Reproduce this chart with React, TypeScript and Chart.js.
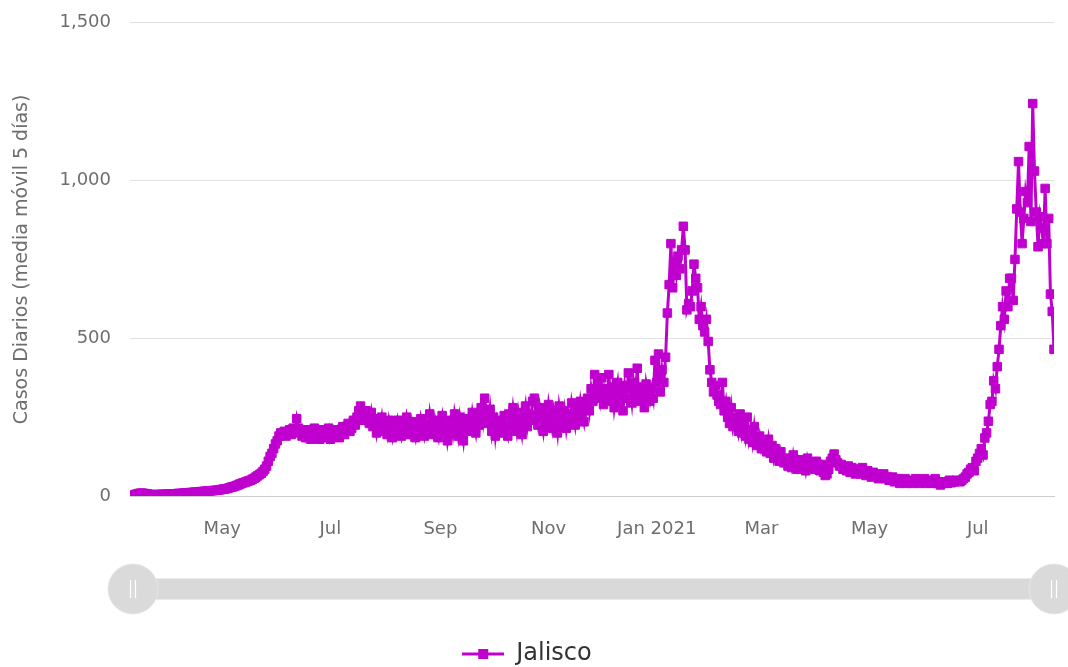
import { useEffect, useRef } from 'react';
import { Chart, registerables } from 'chart.js';

Chart.register(...registerables);

const seriesName = 'Jalisco';
const yAxisTitle = 'Casos Diarios (media móvil 5 días)';
const lineColor = '#bf00cf';

// daily 5-day moving average, 10 Mar 2020 .. 31 Dec 2020
const values2020 = [
  0, 1, 3, 5, 6, 8, 9, 9, 8, 7,
  6, 5, 5, 4, 4, 4, 5, 5, 5, 5,
  5, 6, 6, 6, 7, 7, 7, 8, 8, 8,
  9, 9, 10, 10, 11, 11, 12, 12, 13, 13,
  14, 14, 15, 15, 16, 16, 17, 17, 18, 18,
  19, 20, 21, 22, 23, 24, 26, 28, 29, 31,
  33, 35, 38, 40, 42, 44, 46, 48, 50, 53,
  56, 60, 64, 68, 72, 78, 85, 95, 110, 125,
  135, 150, 165, 175, 190, 200, 195, 205, 190, 200,
  210, 195, 215, 205, 245, 215, 200, 190, 205, 185,
  210, 195, 180, 200, 215, 190, 205, 180, 195, 210,
  185, 200, 215, 180, 195, 205, 190, 210, 185, 200,
  220, 195, 210, 230, 205, 215, 240, 225, 250, 270,
  285, 260, 240, 270, 255, 230, 265, 220, 245, 200,
  235, 215, 250, 205, 225, 195, 240, 210, 185, 225,
  200, 240, 215, 190, 230, 205, 250, 220, 195, 235,
  210, 185, 225, 200, 245, 215, 190, 230, 205, 260,
  220, 195, 240, 210, 185, 230, 255, 205, 225, 175,
  215, 240, 200, 260, 225, 190, 250, 215, 175, 235,
  205, 245, 220, 265, 230, 200, 255, 225, 280, 240,
  310, 260, 230, 275, 205, 250, 190, 240, 215, 200,
  235, 255, 210, 190, 260, 225, 280, 240, 205, 265,
  230, 195, 250, 285, 220, 260, 240, 300, 310, 255,
  225, 280, 240, 205, 265, 230, 290, 250, 215, 270,
  240, 200, 285, 250, 225, 270, 215, 260, 235, 295,
  260, 225, 280, 245, 300, 265, 235, 290, 310, 270,
  340, 300, 385, 330, 355, 310, 375, 290, 340, 320,
  385, 300, 345, 280, 325, 360, 295, 330, 270, 350,
  310, 390, 340, 295, 360, 320, 405, 300, 345, 330,
  280, 355, 320, 300, 340, 310, 430,
];

// 1 Jan 2021 .. 13 Aug 2021
const values2021 = [
  360, 450, 330,
  400, 360, 440, 580, 670, 800, 660, 740, 700, 760,
  720, 780, 855, 780, 590, 610, 600, 650, 735, 690,
  660, 560, 600, 540, 520, 560, 490, 400, 360, 330,
  350, 320, 300, 290, 360, 270, 300, 250, 230, 280,
  220, 250, 240, 205, 260, 200, 230, 190, 250, 180,
  210, 170, 220, 175, 160, 190, 150, 170, 150, 140,
  180, 135, 160, 120, 150, 130, 110, 140, 115, 105,
  120, 95, 110, 90, 130, 100, 85, 115, 100, 95,
  110, 80, 120, 100, 90, 105, 85, 110, 95, 80,
  100, 75, 65, 70, 85, 110, 120, 133, 115, 105,
  95, 100, 85, 90, 80, 95, 75, 90, 85, 70,
  85, 80, 70, 90, 75, 65, 80, 70, 60, 75,
  65, 70, 55, 65, 60, 70, 55, 60, 50, 55,
  60, 45, 50, 55, 40, 50, 45, 55, 40, 45,
  50, 40, 45, 55, 45, 40, 50, 45, 55, 40,
  45, 50, 40, 45, 55, 40, 45, 35, 45, 40,
  45, 40, 50, 42, 48, 45, 50, 48, 45, 50,
  55, 60, 70, 75, 85, 90, 80, 110, 120, 135,
  150, 130, 184, 200, 237, 290, 300, 365, 340, 410,
  465, 540, 600, 560, 650, 600, 690, 690, 620, 750,
  910, 1060, 900, 800, 880, 965, 930, 1108, 870, 1244,
  1030, 900, 790, 885, 850, 800, 975, 800, 880, 640,
  585, 465,
];

// x-axis ticks: day index (from 10 Mar 2020) of month starts
const tickDays = [52, 113, 175, 236, 297, 356, 417, 478];
const tickLabels = ['May', 'Jul', 'Sep', 'Nov', 'Jan 2021', 'Mar', 'May', 'Jul'];
const yTicks = [0, 500, 1000, 1500];

const FONT = "'DejaVu Sans', sans-serif";
const CANVAS_W = 1068;
const CANVAS_H = 683;
const CANVAS_SHIFT = 7;

function makeLegendIcon(): HTMLCanvasElement {
  const c = document.createElement('canvas');
  c.width = 42;
  c.height = 12;
  const g = c.getContext('2d')!;
  g.fillStyle = lineColor;
  g.fillRect(0, 4.5, 42, 3);
  g.fillRect(16, 1, 10, 10);
  return c;
}

const sliderPlugin = {
  id: 'fakeSlider',
  afterDraw(chart: any) {
    const ctx = chart.ctx as CanvasRenderingContext2D;
    const { left, right } = chart.chartArea;
    const cy = 589 + CANVAS_SHIFT;
    const h = 21;
    ctx.save();
    ctx.fillStyle = '#d9d9d9';
    ctx.beginPath();
    ctx.roundRect(left, cy - h / 2, right - left, h, 3);
    ctx.fill();
    const handles = [left + 3, right];
    for (const cx of handles) {
      ctx.beginPath();
      ctx.arc(cx, cy, 25, 0, Math.PI * 2);
      ctx.fillStyle = '#dadada';
      ctx.fill();
      ctx.strokeStyle = '#e6e6e6';
      ctx.lineWidth = 1;
      ctx.stroke();
      ctx.strokeStyle = '#ffffff';
      ctx.lineWidth = 1.2;
      ctx.beginPath();
      ctx.moveTo(cx - 2.5, cy - 9);
      ctx.lineTo(cx - 2.5, cy + 9);
      ctx.moveTo(cx + 2.5, cy - 9);
      ctx.lineTo(cx + 2.5, cy + 9);
      ctx.stroke();
    }
    ctx.restore();
  },
};

export default function App() {
  const canvasRef = useRef<HTMLCanvasElement | null>(null);

  useEffect(() => {
    const canvas = canvasRef.current;
    if (!canvas) return;
    const all = [...values2020, ...values2021];
    const points = all.map((v, i) => ({ x: i, y: v }));
    const icon = makeLegendIcon();

    const chart = new Chart(canvas, {
      type: 'line',
      data: {
        datasets: [
          {
            label: seriesName,
            data: points,
            borderColor: lineColor,
            backgroundColor: lineColor,
            borderWidth: 3,
            pointStyle: 'rect',
            pointRadius: 6,
            pointBorderWidth: 1,
            pointBackgroundColor: lineColor,
            pointBorderColor: lineColor,
            tension: 0,
          },
        ],
      },
      options: {
        responsive: false,
        animation: false,
        layout: { padding: { left: 0, right: 14, top: 14, bottom: 0 } },
        scales: {
          x: {
            type: 'linear',
            min: 0,
            max: all.length - 1,
            grid: { display: false, drawTicks: false },
            border: { display: true, color: '#cccccc', width: 1 },
            afterBuildTicks: (scale: any) => {
              scale.ticks = tickDays.map((v) => ({ value: v }));
            },
            afterFit: (scale: any) => {
              scale.height = 142;
            },
            ticks: {
              autoSkip: false,
              maxRotation: 0,
              padding: 23,
              color: '#6e6e6e',
              font: { family: FONT, size: 18 },
              callback: (value: any) => {
                const idx = tickDays.indexOf(Number(value));
                return idx >= 0 ? tickLabels[idx] : '';
              },
            },
          },
          y: {
            min: 0,
            max: 1500,
            afterBuildTicks: (scale: any) => {
              scale.ticks = yTicks.map((v) => ({ value: v }));
            },
            afterFit: (scale: any) => {
              scale.width = 130;
            },
            grid: { color: '#e0e0e0', drawTicks: false, lineWidth: 1 },
            border: { display: false },
            ticks: {
              padding: 19,
              color: '#6e6e6e',
              font: { family: FONT, size: 18 },
              callback: (value: any) => Number(value).toLocaleString('en-US'),
            },
            title: {
              display: true,
              text: yAxisTitle,
              color: '#6e6e6e',
              font: { family: FONT, size: 19 },
              padding: { top: 11, bottom: 0 },
            },
          },
        },
        plugins: {
          tooltip: { enabled: false },
          legend: {
            display: true,
            position: 'bottom',
            labels: {
              usePointStyle: true,
              pointStyleWidth: 42,
              color: '#333333',
              font: { family: FONT, size: 24 },
              padding: 4,
              generateLabels: (ch: any) => {
                const items = Chart.defaults.plugins.legend.labels.generateLabels(ch);
                return items.map((it: any) => ({ ...it, pointStyle: icon }));
              },
            },
          },
        },
      },
      plugins: [sliderPlugin],
    });

    return () => chart.destroy();
  }, []);

  return (
    <div
      style={{
        position: 'absolute',
        left: 0,
        top: 0,
        width: 1068,
        height: 667,
        overflow: 'hidden',
        background: '#fff',
      }}
    >
      <canvas
        ref={canvasRef}
        width={CANVAS_W}
        height={CANVAS_H}
        style={{ display: 'block', position: 'absolute', left: 0, top: -CANVAS_SHIFT }}
      />
    </div>
  );
}
